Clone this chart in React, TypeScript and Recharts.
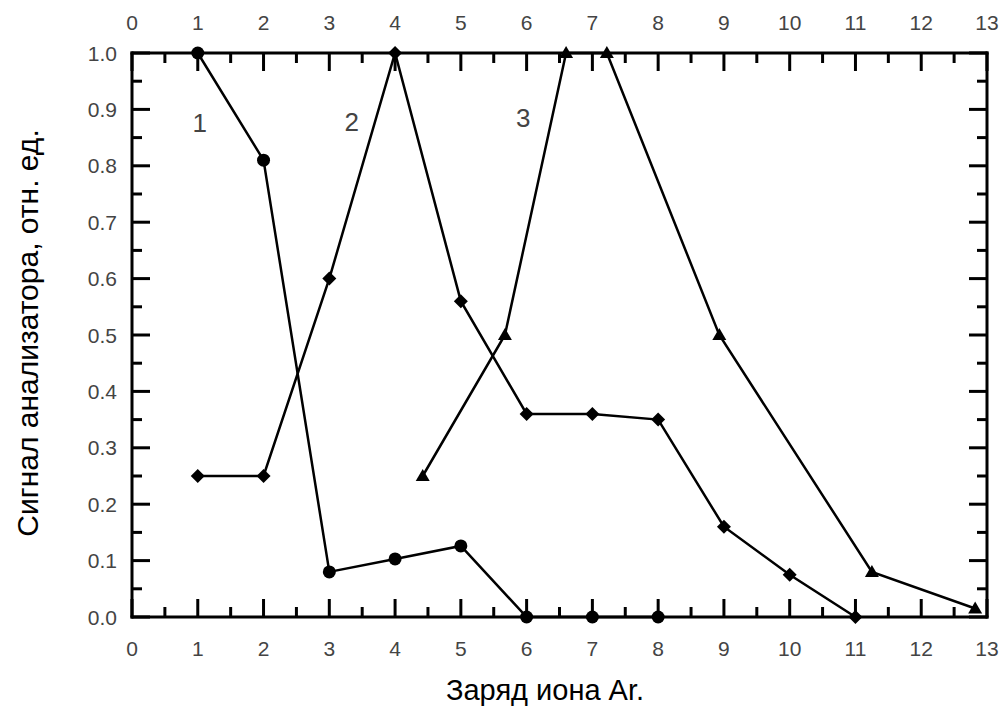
import { LineChart, Line, XAxis, YAxis, ReferenceDot, Label } from 'recharts';

// curve 1 (circles)
const charge1 = [1, 2, 3, 4, 5, 6, 7, 8];
const signal1 = [1.0, 0.81, 0.08, 0.103, 0.126, 0, 0, 0];

// curve 2 (diamonds)
const charge2 = [1, 2, 3, 4, 5, 6, 7, 8, 9, 10, 11];
const signal2 = [0.25, 0.25, 0.6, 1.0, 0.56, 0.36, 0.36, 0.35, 0.16, 0.075, 0];

// curve 3 (triangles)
const charge3 = [4.42, 5.67, 6.6, 7.22, 8.93, 11.25, 12.82];
const signal3 = [0.25, 0.5, 1.0, 1.0, 0.5, 0.08, 0.015];

const xTicks = [0, 0.5, 1, 1.5, 2, 2.5, 3, 3.5, 4, 4.5, 5, 5.5, 6, 6.5, 7, 7.5, 8, 8.5, 9, 9.5, 10, 10.5, 11, 11.5, 12, 12.5, 13];
const yTicks = [0, 0.05, 0.1, 0.15, 0.2, 0.25, 0.3, 0.35, 0.4, 0.45, 0.5, 0.55, 0.6, 0.65, 0.7, 0.75, 0.8, 0.85, 0.9, 0.95, 1.0];

const curveNames = ['1', '2', '3'];
const curveNameX = [1.03, 3.34, 5.95];
const curveNameY = [0.876, 0.878, 0.885];

const series1 = charge1.map((x, i) => ({ x, y: signal1[i] }));
const series2 = charge2.map((x, i) => ({ x, y: signal2[i] }));
const series3 = charge3.map((x, i) => ({ x, y: signal3[i] }));

const MAJOR = 18;
const MINOR = 10;
const AXIS_W = 3;
const TICK_FONT = "'Liberation Sans Narrow', 'Liberation Sans', Arial, sans-serif";
const TITLE_FONT = "'Liberation Sans', Arial, sans-serif";

const isMajorX = (v: number) => Math.abs(v - Math.round(v)) < 1e-6;
const isMajorY = (v: number) => Math.abs(v * 10 - Math.round(v * 10)) < 1e-6;

const tickText = {
  fontFamily: TICK_FONT,
  fontSize: 21,
  fill: '#444',
};

const BottomTick = (props: any) => {
  const { x, y, payload } = props;
  const v = payload.value;
  const major = isMajorX(v);
  return (
    <g>
      <line x1={x} y1={y} x2={x} y2={y - (major ? MAJOR : MINOR)} stroke="#000" strokeWidth={AXIS_W} />
      {major && (
        <text x={x} y={y + 31} textAnchor="middle" dominantBaseline="central" {...tickText}>
          {Math.round(v)}
        </text>
      )}
    </g>
  );
};

const TopTick = (props: any) => {
  const { x, y, payload } = props;
  const v = payload.value;
  const major = isMajorX(v);
  return (
    <g>
      <line x1={x} y1={y} x2={x} y2={y + (major ? MAJOR : MINOR)} stroke="#000" strokeWidth={AXIS_W} />
      {major && (
        <text x={x} y={y - 31} textAnchor="middle" dominantBaseline="central" {...tickText}>
          {Math.round(v)}
        </text>
      )}
    </g>
  );
};

const LeftTick = (props: any) => {
  const { x, y, payload } = props;
  const v = payload.value;
  const major = isMajorY(v);
  return (
    <g>
      <line x1={x} y1={y} x2={x + (major ? MAJOR : MINOR)} y2={y} stroke="#000" strokeWidth={AXIS_W} />
      {major && (
        <text x={x - 15} y={y} textAnchor="end" dominantBaseline="central" {...tickText}>
          {v.toFixed(1)}
        </text>
      )}
    </g>
  );
};

const RightTick = (props: any) => {
  const { x, y, payload } = props;
  const major = isMajorY(payload.value);
  return <line x1={x} y1={y} x2={x - (major ? MAJOR : MINOR)} y2={y} stroke="#000" strokeWidth={AXIS_W} />;
};

const circleDot = (p: any) => <circle key={`c-${p.index}`} cx={p.cx} cy={p.cy} r={6.5} fill="#000" />;

const diamondDot = (p: any) => (
  <path
    key={`d-${p.index}`}
    d={`M${p.cx},${p.cy - 7} L${p.cx + 7},${p.cy} L${p.cx},${p.cy + 7} L${p.cx - 7},${p.cy} Z`}
    fill="#000"
  />
);

const triangleDot = (p: any) => (
  <path
    key={`t-${p.index}`}
    d={`M${p.cx},${p.cy - 7} L${p.cx + 7},${p.cy + 5} L${p.cx - 7},${p.cy + 5} Z`}
    fill="#000"
  />
);

const axisLine = { stroke: '#000', strokeWidth: AXIS_W, strokeLinecap: 'square' as const };

export default function App() {
  return (
    <div style={{ position: 'absolute', left: 0, top: 0 }}>
      <LineChart width={1004} height={711} margin={{ top: 0, right: 0, bottom: 0, left: 0 }}>
        <XAxis
          dataKey="x"
          type="number"
          domain={[0, 13]}
          ticks={xTicks}
          interval={0}
          height={94}
          tickSize={0}
          tickMargin={0}
          tickLine={false}
          axisLine={axisLine}
          tick={BottomTick}
        >
          <Label
            content={() => (
              <text x={545} y={690} textAnchor="middle" dominantBaseline="central"
                fontFamily={TITLE_FONT} fontSize={29} fill="#000">
                Заряд иона Ar.
              </text>
            )}
          />
        </XAxis>
        {/* mirror axes on top and right carry only ticks; no series is bound to them */}
        <XAxis
          xAxisId="top"
          orientation="top"
          dataKey="x"
          type="number"
          domain={[0, 13]}
          ticks={xTicks}
          interval={0}
          height={53}
          tickSize={0}
          tickMargin={0}
          tickLine={false}
          axisLine={axisLine}
          tick={TopTick}
          allowDataOverflow
        />
        <YAxis
          type="number"
          domain={[0, 1]}
          ticks={yTicks}
          interval={0}
          width={132}
          tickSize={0}
          tickMargin={0}
          tickLine={false}
          axisLine={axisLine}
          tick={LeftTick}
        >
          <Label
            content={() => (
              <text x={27} y={333} textAnchor="middle" dominantBaseline="central"
                transform="rotate(-90 27 333)"
                fontFamily={TITLE_FONT} fontSize={30} fill="#000">
                Сигнал анализатора, отн. ед.
              </text>
            )}
          />
        </YAxis>
        <YAxis
          yAxisId="right"
          orientation="right"
          type="number"
          domain={[0, 1]}
          ticks={yTicks}
          interval={0}
          width={17}
          tickSize={0}
          tickMargin={0}
          tickLine={false}
          axisLine={axisLine}
          tick={RightTick}
          allowDataOverflow
        />
        <Line data={series1} dataKey="y" type="linear" stroke="#000" strokeWidth={2.5}
          dot={circleDot} activeDot={false} isAnimationActive={false} />
        <Line data={series2} dataKey="y" type="linear" stroke="#000" strokeWidth={2.5}
          dot={diamondDot} activeDot={false} isAnimationActive={false} />
        <Line data={series3} dataKey="y" type="linear" stroke="#000" strokeWidth={2.5}
          dot={triangleDot} activeDot={false} isAnimationActive={false} />
        {curveNames.map((name, i) => (
          <ReferenceDot
            key={name}
            x={curveNameX[i]}
            y={curveNameY[i]}
            r={0}
            fill="none"
            stroke="none"
            label={{ value: name, position: 'center', fontSize: 26, fill: '#444', fontFamily: TITLE_FONT }}
          />
        ))}
      </LineChart>
    </div>
  );
}
